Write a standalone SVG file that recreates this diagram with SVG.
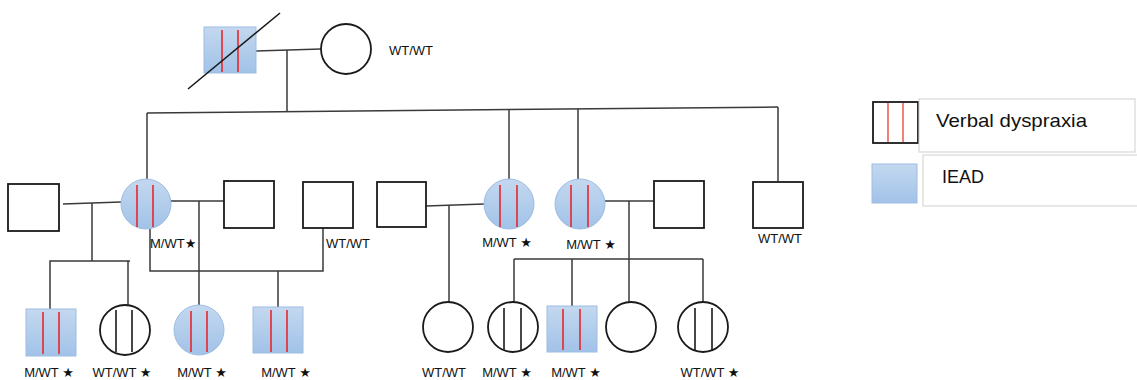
<svg xmlns="http://www.w3.org/2000/svg" width="1137" height="380" viewBox="0 0 1137 380">
<defs>
<linearGradient id="blue" x1="0" y1="0" x2="0" y2="1">
<stop offset="0" stop-color="#c4d8ef"/>
<stop offset="1" stop-color="#a1c2e8"/>
</linearGradient>
<style>
.ln{stroke:#3a3a3a;stroke-width:1.5;fill:none}
.sh{fill:#fff;stroke:#1a1a1a;stroke-width:1.8}
.aff{fill:url(#blue);stroke:#9dbde3;stroke-width:1}
.red{stroke:#e8262b;stroke-width:1.6}
.blk{stroke:#1a1a1a;stroke-width:1.6}
.lbl{font-family:"Liberation Sans","DejaVu Sans",sans-serif;font-size:13px;fill:#111}
.lg{font-family:"Liberation Sans","DejaVu Sans",sans-serif;font-size:19px;fill:#111}
.box{fill:#fff;stroke:#cfcfcf;stroke-width:1}
</style>
</defs>
<rect width="1137" height="380" fill="#fff"/>

<g id="connectors">
<line class="ln" x1="256" y1="51" x2="321" y2="49"/>
<line class="ln" x1="287" y1="50" x2="287" y2="112"/>
<line class="ln" x1="147" y1="113" x2="778" y2="107"/>
<line class="ln" x1="147" y1="113" x2="147" y2="179"/>
<line class="ln" x1="509" y1="109" x2="509" y2="179"/>
<line class="ln" x1="578" y1="109" x2="578" y2="179"/>
<line class="ln" x1="778" y1="107" x2="778" y2="181"/>
<line class="ln" x1="63" y1="204" x2="121" y2="202"/>
<line class="ln" x1="92" y1="203" x2="92" y2="261"/>
<polyline class="ln" points="50,309 50,261 130,261"/>
<line class="ln" x1="128" y1="261" x2="128" y2="305"/>
<line class="ln" x1="171" y1="201" x2="224" y2="201"/>
<line class="ln" x1="199" y1="201" x2="199" y2="305"/>
<polyline class="ln" points="150,229 150,271 323,271 323,228"/>
<line class="ln" x1="278" y1="271" x2="278" y2="307"/>
<line class="ln" x1="426" y1="206" x2="484" y2="204"/>
<line class="ln" x1="449" y1="205" x2="449" y2="302"/>
<line class="ln" x1="605" y1="201" x2="654" y2="201"/>
<line class="ln" x1="629" y1="201" x2="629" y2="302"/>
<line class="ln" x1="514" y1="259" x2="703" y2="259"/>
<line class="ln" x1="514" y1="259" x2="514" y2="302"/>
<line class="ln" x1="572" y1="259" x2="572" y2="306"/>
<line class="ln" x1="703" y1="259" x2="703" y2="302"/>
</g>

<g id="grandfather">
<rect class="aff" x="204" y="27" width="52" height="46"/>
<line class="red" x1="222" y1="30" x2="222" y2="72"/>
<line class="red" x1="238" y1="30" x2="238" y2="72"/>
<line x1="188" y1="89" x2="280" y2="13" stroke="#1a1a1a" stroke-width="1.6"/>
</g>
<g id="grandmother">
<circle class="sh" cx="346" cy="49" r="25"/>
<text class="lbl" x="389" y="55">WT/WT</text>
</g>

<g id="g2-husband1"><rect class="sh" x="8" y="184" width="51" height="47"/></g>
<g id="g2-daughter1">
<circle class="aff" cx="146" cy="204" r="25"/>
<line class="red" x1="137" y1="185" x2="137" y2="227"/>
<line class="red" x1="153" y1="185" x2="153" y2="227"/>
<text class="lbl" x="150" y="248">M/WT★</text>
</g>
<g id="g2-husband2"><rect class="sh" x="224" y="181" width="50" height="47"/></g>
<g id="g2-husband3">
<rect class="sh" x="303" y="182" width="50" height="46"/>
<text class="lbl" x="326" y="248">WT/WT</text>
</g>
<g id="g2-husband4"><rect class="sh" x="377" y="182" width="49" height="45"/></g>
<g id="g2-daughter2">
<circle class="aff" cx="509" cy="204" r="25"/>
<line class="red" x1="500" y1="185" x2="500" y2="227"/>
<line class="red" x1="517" y1="185" x2="517" y2="227"/>
<text class="lbl" x="507" y="247" text-anchor="middle">M/WT ★</text>
</g>
<g id="g2-daughter3">
<circle class="aff" cx="580" cy="204" r="25"/>
<line class="red" x1="571" y1="185" x2="571" y2="227"/>
<line class="red" x1="588" y1="185" x2="588" y2="227"/>
<text class="lbl" x="591" y="249" text-anchor="middle">M/WT ★</text>
</g>
<g id="g2-husband5"><rect class="sh" x="654" y="181" width="50" height="47"/></g>
<g id="g2-son">
<rect class="sh" x="753" y="182" width="50" height="46"/>
<text class="lbl" x="780" y="243" text-anchor="middle">WT/WT</text>
</g>

<g id="g3-1">
<rect class="aff" x="26" y="309" width="50" height="47"/>
<line class="red" x1="43" y1="312" x2="43" y2="354"/>
<line class="red" x1="59" y1="312" x2="59" y2="354"/>
<text class="lbl" x="49" y="377" text-anchor="middle">M/WT ★</text>
</g>
<g id="g3-2">
<circle class="sh" cx="125" cy="330" r="25"/>
<line class="blk" x1="116" y1="310" x2="116" y2="352"/>
<line class="blk" x1="132" y1="310" x2="132" y2="352"/>
<text class="lbl" x="122" y="377" text-anchor="middle">WT/WT ★</text>
</g>
<g id="g3-3">
<circle class="aff" cx="199" cy="330" r="25"/>
<line class="red" x1="191" y1="311" x2="191" y2="352"/>
<line class="red" x1="207" y1="311" x2="207" y2="352"/>
<text class="lbl" x="202" y="377" text-anchor="middle">M/WT ★</text>
</g>
<g id="g3-4">
<rect class="aff" x="253" y="307" width="50" height="46"/>
<line class="red" x1="271" y1="310" x2="271" y2="352"/>
<line class="red" x1="287" y1="310" x2="287" y2="352"/>
<text class="lbl" x="286" y="377" text-anchor="middle">M/WT ★</text>
</g>
<g id="g3-5">
<circle class="sh" cx="448" cy="327" r="25"/>
<text class="lbl" x="444" y="377" text-anchor="middle">WT/WT</text>
</g>
<g id="g3-6">
<circle class="sh" cx="513" cy="327" r="25"/>
<line class="blk" x1="504" y1="308" x2="504" y2="350"/>
<line class="blk" x1="521" y1="308" x2="521" y2="350"/>
<text class="lbl" x="507" y="377" text-anchor="middle">M/WT ★</text>
</g>
<g id="g3-7">
<rect class="aff" x="547" y="306" width="50" height="46"/>
<line class="red" x1="563" y1="309" x2="563" y2="350"/>
<line class="red" x1="580" y1="309" x2="580" y2="350"/>
<text class="lbl" x="576" y="377" text-anchor="middle">M/WT ★</text>
</g>
<g id="g3-8">
<circle class="sh" cx="631" cy="327" r="25"/>
</g>
<g id="g3-9">
<circle class="sh" cx="703" cy="327" r="25"/>
<line class="blk" x1="695" y1="308" x2="695" y2="350"/>
<line class="blk" x1="712" y1="308" x2="712" y2="350"/>
<text class="lbl" x="710" y="377" text-anchor="middle">WT/WT ★</text>
</g>

<g id="legend">
<rect class="sh" x="873" y="102" width="45" height="41"/>
<line x1="888" y1="103" x2="888" y2="142" stroke="#f0605a" stroke-width="1.6"/>
<line x1="903" y1="103" x2="903" y2="142" stroke="#f0605a" stroke-width="1.6"/>
<rect class="box" x="919" y="99" width="216" height="53"/>
<text class="lg" x="936" y="127" textLength="151" lengthAdjust="spacingAndGlyphs">Verbal dyspraxia</text>
<rect class="aff" x="872" y="164" width="45" height="39"/>
<rect class="box" x="923" y="155" width="220" height="51"/>
<text class="lg" x="942" y="183" textLength="42" lengthAdjust="spacingAndGlyphs">IEAD</text>
</g>
</svg>
